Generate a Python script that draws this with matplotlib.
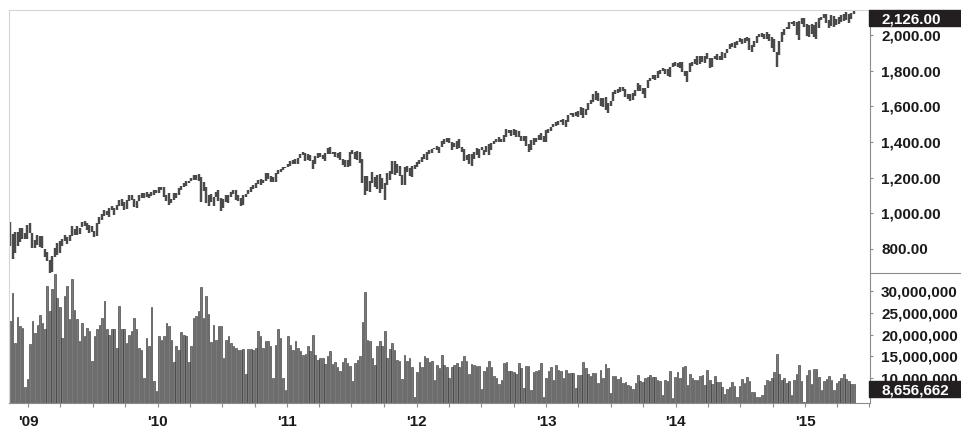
import numpy as np
import pandas as pd
import matplotlib
matplotlib.use("Agg")
import matplotlib.pyplot as plt
import matplotlib.dates as mdates
from matplotlib.ticker import FuncFormatter
from matplotlib.patches import Rectangle
from matplotlib.lines import Line2D

# weekly highs / lows of the index, grouped by the year of the week's Friday
high_2008 = [951, 882, 896, 896, 918, 918, 889]
low_2008 = [818, 741, 778, 815, 837, 857, 857]

high_2009 = [934, 943, 891, 850, 877, 870, 875, 800, 780, 736,
             758, 804, 832, 845, 857, 876, 869, 880, 930, 911,
             930, 920, 951, 956, 946, 934, 931, 898, 943, 979,
             996, 1018, 1013, 1027, 1039, 1028, 1048, 1074, 1080, 1065,
             1073, 1101, 1101, 1082, 1071, 1105, 1113, 1113, 1119, 1107,
             1118, 1128]
low_2009 = [857, 888, 805, 805, 822, 812, 808, 754, 734, 667,
            672, 752, 768, 779, 814, 847, 826, 847, 875, 879,
            879, 881, 923, 930, 905, 888, 896, 869, 875, 940,
            965, 986, 990, 978, 1016, 992, 1016, 1041, 1041, 1020,
            1025, 1070, 1075, 1033, 1029, 1070, 1086, 1083, 1093, 1085,
            1096, 1100]

high_2010 = [1130, 1145, 1150, 1150, 1103, 1112, 1080, 1112, 1111, 1139,
             1151, 1169, 1181, 1180, 1195, 1214, 1217, 1219, 1205, 1174,
             1150, 1105, 1106, 1092, 1120, 1131, 1088, 1078, 1100, 1103,
             1120, 1129, 1130, 1100, 1084, 1105, 1110, 1131, 1148, 1159,
             1167, 1184, 1190, 1188, 1227, 1226, 1207, 1205, 1225, 1240,
             1247, 1259, 1262]
low_2010 = [1115, 1115, 1131, 1090, 1071, 1045, 1056, 1076, 1086, 1105,
            1133, 1147, 1154, 1167, 1181, 1187, 1188, 1183, 1065, 1125,
            1056, 1040, 1064, 1043, 1090, 1070, 1011, 1028, 1063, 1056,
            1089, 1107, 1076, 1069, 1040, 1047, 1090, 1106, 1122, 1136,
            1140, 1162, 1159, 1171, 1181, 1194, 1173, 1176, 1174, 1220,
            1232, 1243, 1254]

high_2011 = [1278, 1294, 1297, 1302, 1311, 1330, 1344, 1339, 1332, 1327,
             1301, 1319, 1337, 1339, 1329, 1339, 1364, 1370, 1346, 1346,
             1337, 1346, 1302, 1296, 1298, 1341, 1357, 1344, 1348, 1345,
             1307, 1209, 1208, 1182, 1230, 1204, 1216, 1221, 1195, 1171,
             1224, 1239, 1293, 1292, 1277, 1267, 1216, 1260, 1267, 1255,
             1265, 1269]
low_2011 = [1257, 1264, 1276, 1275, 1278, 1310, 1324, 1294, 1297, 1291,
            1249, 1277, 1308, 1318, 1303, 1295, 1331, 1332, 1330, 1318,
            1311, 1296, 1268, 1262, 1262, 1263, 1333, 1307, 1300, 1282,
            1169, 1101, 1125, 1121, 1170, 1150, 1137, 1115, 1136, 1075,
            1159, 1187, 1221, 1215, 1226, 1209, 1158, 1158, 1231, 1209,
            1202, 1248]

high_2012 = [1285, 1296, 1315, 1333, 1345, 1354, 1363, 1368, 1378, 1374,
             1406, 1415, 1420, 1422, 1397, 1393, 1406, 1415, 1372, 1363,
             1328, 1334, 1335, 1345, 1364, 1363, 1374, 1357, 1380, 1389,
             1393, 1407, 1419, 1426, 1414, 1437, 1474, 1465, 1467, 1470,
             1465, 1464, 1436, 1434, 1434, 1388, 1409, 1420, 1423, 1438,
             1448, 1431]
low_2012 = [1259, 1274, 1289, 1306, 1300, 1335, 1340, 1358, 1354, 1340,
            1370, 1391, 1397, 1392, 1357, 1369, 1358, 1367, 1343, 1292,
            1296, 1278, 1266, 1306, 1324, 1309, 1353, 1325, 1345, 1329,
            1354, 1390, 1397, 1398, 1398, 1397, 1428, 1451, 1433, 1439,
            1426, 1426, 1403, 1403, 1377, 1343, 1357, 1385, 1398, 1412,
            1411, 1398]

high_2013 = [1466, 1472, 1485, 1503, 1514, 1518, 1524, 1530, 1525, 1552,
             1563, 1560, 1570, 1573, 1597, 1593, 1585, 1618, 1636, 1667,
             1687, 1674, 1646, 1648, 1654, 1620, 1632, 1680, 1693, 1698,
             1709, 1709, 1696, 1669, 1669, 1676, 1689, 1729, 1720, 1700,
             1705, 1745, 1759, 1775, 1774, 1799, 1806, 1813, 1808, 1811,
             1823, 1844]
low_2013 = [1402, 1450, 1463, 1482, 1492, 1495, 1511, 1497, 1485, 1512,
            1549, 1538, 1546, 1539, 1553, 1536, 1552, 1581, 1613, 1626,
            1635, 1630, 1599, 1598, 1577, 1560, 1601, 1631, 1671, 1676,
            1680, 1684, 1654, 1640, 1627, 1633, 1656, 1686, 1687, 1670,
            1646, 1700, 1740, 1752, 1746, 1761, 1780, 1800, 1779, 1772,
            1767, 1821]

high_2014 = [1849, 1843, 1850, 1850, 1798, 1798, 1841, 1847, 1867, 1883,
             1882, 1884, 1883, 1897, 1868, 1869, 1884, 1891, 1884, 1902,
             1901, 1924, 1950, 1955, 1963, 1968, 1985, 1979, 1983, 1991,
             1985, 1942, 1964, 1994, 2005, 2011, 2007, 2019, 2007, 1986,
             1977, 1905, 1965, 2018, 2034, 2046, 2071, 2075, 2079, 2075,
             2077, 2094]
low_2014 = [1827, 1823, 1815, 1790, 1770, 1737, 1791, 1825, 1837, 1834,
            1839, 1846, 1842, 1863, 1814, 1820, 1863, 1859, 1859, 1862,
            1868, 1900, 1919, 1930, 1928, 1944, 1958, 1952, 1955, 1968,
            1916, 1905, 1932, 1954, 1987, 1990, 1980, 1978, 1964, 1926,
            1906, 1821, 1887, 1959, 2001, 2031, 2033, 2062, 2049, 2002,
            1972, 2060]

high_2015 = [2093, 2064, 2057, 2064, 2057, 2072, 2097, 2101, 2120, 2118,
             2082, 2114, 2107, 2089, 2103, 2111, 2120, 2126, 2117, 2123,
             2134]
low_2015 = [2046, 1992, 1988, 2004, 1989, 1980, 2040, 2085, 2094, 2067,
            2039, 2050, 2045, 2056, 2059, 2073, 2081, 2083, 2067, 2092,
            2115]

# weekly volume in millions
vol_2008 = [23.1, 29.7, 18.1, 24.0, 22.0, 21.5, 7.8]
vol_2009 = [9.7, 17.8, 23.1, 20.4, 22.3, 24.6, 22.7, 21.2, 31.2, 25.4,
            30.5, 33.9, 28.5, 26.4, 19.2, 28.9, 31.2, 23.5, 32.8, 25.6,
            23.5, 18.5, 22.7, 19.6, 21.5, 20.8, 13.8, 19.6, 21.2, 22.3,
            23.9, 27.8, 21.2, 20.0, 21.2, 21.2, 16.9, 26.6, 21.2, 21.2,
            18.1, 20.0, 20.8, 23.9, 21.2, 16.9, 16.5, 9.9, 19.2, 17.3,
            26.4, 9.2]
vol_2010 = [7.0, 19.6, 18.8, 19.6, 22.7, 21.9, 18.8, 13.6, 17.3, 16.5,
            20.6, 20.0, 19.6, 13.6, 17.3, 23.9, 24.3, 25.4, 30.9, 23.9,
            28.9, 24.8, 18.3, 22.3, 18.8, 21.9, 21.9, 14.6, 18.8, 19.6,
            18.1, 17.3, 16.9, 16.5, 16.5, 16.7, 10.9, 16.7, 16.7, 16.5,
            16.9, 20.9, 19.6, 16.9, 18.6, 18.6, 17.3, 9.9, 17.7, 21.2,
            19.2, 9.9, 7.2]
vol_2011 = [19.6, 17.7, 16.5, 18.6, 16.9, 16.3, 15.3, 15.5, 17.3, 16.3,
            20.0, 15.3, 14.2, 14.6, 14.7, 13.2, 15.0, 16.3, 13.2, 13.6,
            12.4, 11.5, 13.6, 14.6, 13.4, 12.8, 9.2, 13.4, 14.2, 15.0,
            22.9, 29.9, 18.8, 18.6, 14.7, 13.0, 17.3, 18.6, 17.3, 20.9,
            14.6, 16.7, 18.1, 16.5, 14.2, 14.0, 9.8, 15.3, 13.8, 14.6,
            12.4, 5.7]
vol_2012 = [11.3, 13.6, 12.4, 15.0, 14.6, 13.6, 14.0, 9.5, 13.0, 12.3,
            15.2, 12.9, 12.6, 9.9, 12.6, 13.0, 13.4, 12.4, 14.0, 15.0,
            13.8, 10.9, 13.2, 12.9, 12.8, 12.8, 7.4, 11.5, 12.6, 14.0,
            12.4, 10.5, 9.9, 8.5, 9.5, 13.4, 13.6, 11.6, 11.6, 11.3,
            10.9, 13.4, 12.3, 7.6, 12.8, 12.8, 7.2, 11.3, 11.6, 11.9,
            13.4, 5.7]
vol_2013 = [9.9, 11.5, 12.4, 9.5, 12.9, 11.9, 11.6, 9.9, 11.9, 11.1,
            11.1, 11.1, 7.6, 10.7, 10.7, 13.6, 12.3, 10.9, 10.5, 11.2,
            11.2, 8.8, 11.9, 9.9, 13.2, 12.3, 6.4, 10.5, 10.5, 9.7,
            10.1, 8.8, 9.0, 8.4, 8.2, 7.4, 8.8, 10.7, 9.2, 9.0,
            9.9, 10.3, 10.7, 10.3, 10.1, 9.5, 9.3, 6.0, 9.5, 9.3,
            11.5, 5.3]
vol_2014 = [10.1, 11.3, 9.9, 12.6, 12.8, 8.4, 10.9, 9.9, 9.5, 9.5,
            10.5, 10.7, 8.4, 11.9, 9.5, 8.5, 10.5, 9.0, 9.0, 8.0,
            6.2, 7.4, 8.0, 9.0, 8.2, 5.7, 8.2, 9.8, 8.8, 10.3,
            9.2, 6.8, 6.8, 5.7, 5.7, 6.0, 8.4, 9.5, 9.2, 9.9,
            11.3, 15.5, 10.9, 9.5, 9.9, 8.8, 9.2, 6.0, 9.5, 10.9,
            12.9, 9.2]
vol_2015 = [4.5, 10.7, 11.9, 8.5, 12.1, 12.1, 10.1, 7.2, 9.3, 9.8,
            10.5, 9.5, 7.2, 8.8, 9.3, 9.9, 10.9, 9.7, 9.2, 8.5,
            8.656662]

last_close = 2126.00
last_volume = 8656662

price_ticks = [800, 1000, 1200, 1400, 1600, 1800, 2000]
volume_ticks = [10e6, 15e6, 20e6, 25e6, 30e6]

high = np.array(high_2008 + high_2009 + high_2010 + high_2011 + high_2012
                + high_2013 + high_2014 + high_2015)
low = np.array(low_2008 + low_2009 + low_2010 + low_2011 + low_2012
               + low_2013 + low_2014 + low_2015)
vol = np.array(vol_2008 + vol_2009 + vol_2010 + vol_2011 + vol_2012
               + vol_2013 + vol_2014 + vol_2015) * 1e6
if not (len(high) == len(low) == len(vol)):
    raise SystemExit(f"lengths {len(high)} {len(low)} {len(vol)}")

weeks = pd.date_range("2008-11-10", periods=len(high), freq="W-MON")

plt.rcParams["font.family"] = ["Liberation Sans", "DejaVu Sans"]

W, H = 961, 432
fig = plt.figure(figsize=(W / 100, H / 100), dpi=100, facecolor="white")


def px_rect(x0, y0, x1, y1):
    return [x0 / W, 1 - y1 / H, (x1 - x0) / W, (y1 - y0) / H]


ax_p = fig.add_axes(px_rect(9, 10, 870, 273))
ax_v = fig.add_axes(px_rect(9, 273, 870, 403), sharex=ax_p)

dark = "#1a1a1a"
frame = "#8c8c8c"
light = "#d6d6d6"

ax_p.vlines(weeks, low, high, color="#4a4a4a", linewidth=1.75)
ax_v.bar(weeks, vol, width=4.6, color="#7a7a7a", edgecolor="#2e2e2e",
         linewidth=0.4)

ax_p.set_xlim(pd.Timestamp("2008-11-07"), pd.Timestamp("2015-07-03"))
ax_p.set_ylim(665, 2140)
ax_v.set_ylim(4.2e6, 34.2e6)

ax_p.set_yticks(price_ticks)
ax_p.yaxis.set_major_formatter(FuncFormatter(lambda v, p: f"{v:,.2f}"))
ax_v.set_yticks(volume_ticks)
ax_v.yaxis.set_major_formatter(FuncFormatter(lambda v, p: f"{v:,.0f}"))

for ax in (ax_p, ax_v):
    ax.yaxis.tick_right()
    ax.tick_params(axis="y", length=2.5, width=0.8, color=frame, pad=5.5,
                   labelsize=11, labelcolor=dark)
    for lab in ax.get_yticklabels():
        lab.set_fontweight("bold")

ax_p.tick_params(axis="x", which="both", bottom=False, labelbottom=False)
ax_v.xaxis.set_major_locator(mdates.YearLocator())
ax_v.xaxis.set_major_formatter(mdates.DateFormatter("'%y"))
ax_v.xaxis.set_minor_locator(mdates.MonthLocator(bymonth=[4, 7, 10]))
ax_v.tick_params(axis="x", which="both", length=3, width=0.8, color=frame,
                 pad=5.5, labelsize=11, labelcolor=dark)
for lab in ax_v.get_xticklabels():
    lab.set_fontweight("bold")

ax_p.spines["bottom"].set_visible(False)
ax_p.spines["top"].set_color(light)
ax_p.spines["left"].set_color(light)
ax_p.spines["right"].set_color(frame)
ax_v.spines["top"].set_visible(False)
ax_v.spines["left"].set_color(light)
ax_v.spines["right"].set_color(frame)
ax_v.spines["bottom"].set_color(frame)
for ax in (ax_p, ax_v):
    for s in ax.spines.values():
        s.set_linewidth(0.8)

# separator between the two scales on the right
fig.add_artist(Line2D([870 / W, 1], [1 - 273 / H] * 2, color=frame, lw=0.8))


def value_box(ax, value, text):
    yc = ax.transData.transform((0, value))[1] - 5
    yc = min(yc, ax.get_position().y1 * H - 8)
    fig.add_artist(Rectangle((869 / W, (yc - 8) / H), (W - 869) / W, 16 / H,
                             transform=fig.transFigure, color="#231f20",
                             zorder=5))
    fig.text(881 / W, yc / H, text, color="white", fontsize=11,
             fontweight="bold", ha="left", va="center_baseline", zorder=6)


value_box(ax_p, last_close, f"{last_close:,.2f}")
value_box(ax_v, last_volume, f"{last_volume:,}")

fig.savefig("out.png", dpi=100, facecolor="white")
